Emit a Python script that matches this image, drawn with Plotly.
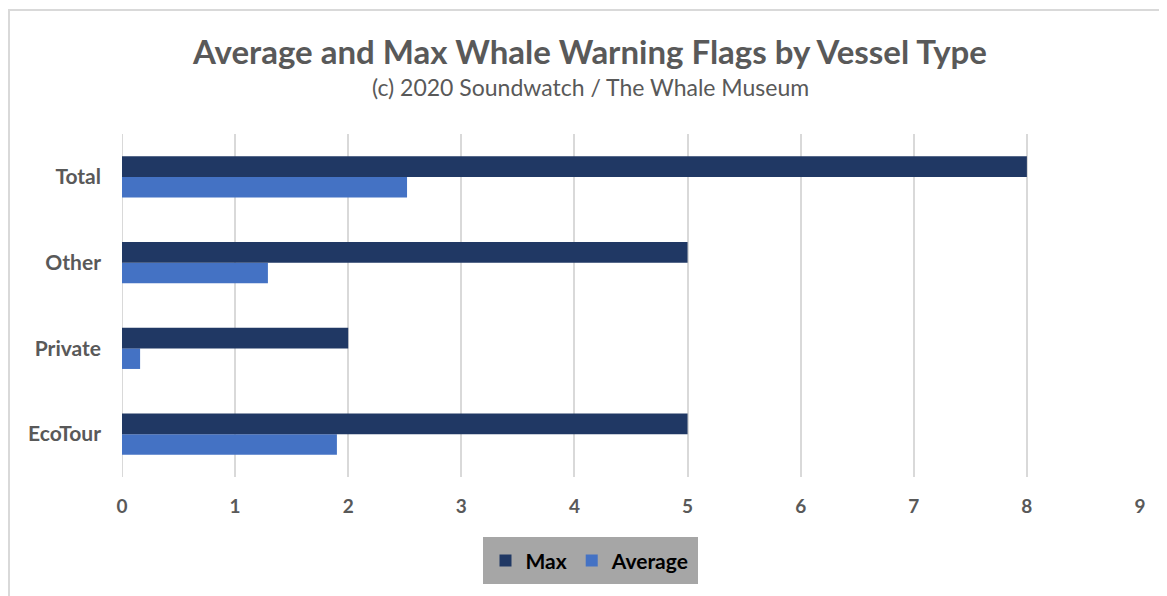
import plotly.graph_objects as go

categories = ["EcoTour", "Private", "Other", "Total"]
max_vals = [5, 2, 5, 8]
avg_vals = [1.9, 0.16, 1.29, 2.52]
x_ticks = [0, 1, 2, 3, 4, 5, 6, 7, 8, 9]

FONT = "Lato"
GRAY = "#595959"

fig = go.Figure()
fig.add_trace(go.Bar(y=categories, x=avg_vals, orientation="h", name="Average",
                     marker=dict(color="#4472C4", line=dict(width=0))))
fig.add_trace(go.Bar(y=categories, x=max_vals, orientation="h", name="Max",
                     marker=dict(color="#203864", line=dict(width=0))))

OFF = 8  # page body margin
W, H = 1167 - OFF, 596 - OFF
L, T = 122 - OFF, 134 - OFF
pw, ph = 1018, 346
R = W - L - pw
B = H - T - ph

def px(x):
    return (x - OFF - L) / pw

def py(y):
    return (H - B - (y - OFF)) / ph

fig.update_layout(
    width=W, height=H,
    margin=dict(l=L, r=R, t=T, b=B),
    paper_bgcolor="white", plot_bgcolor="white",
    barmode="group", bargap=0.52, bargroupgap=0,
    font=dict(family=FONT, color=GRAY),
    xaxis=dict(range=[0, 9], tickvals=x_ticks, showgrid=True, gridcolor="#D9D9D9", gridwidth=2,
               zeroline=False, showline=False,
               tickfont=dict(family=FONT, size=19, color=GRAY, weight="bold"),
               ticks="", ticklabelstandoff=16),
    yaxis=dict(showgrid=False, zeroline=False, showline=False,
               tickfont=dict(family=FONT, size=21, color=GRAY, weight="bold"),
               ticks="", ticklabelstandoff=20),
    legend=dict(orientation="h", traceorder="reversed",
                x=px(590), xanchor="center", y=py(541), yanchor="top",
                bgcolor="#A6A6A6", bordercolor="#A6A6A6", borderwidth=3,
                font=dict(family=FONT, size=21, color="black", weight="bold"),
                itemwidth=30),
    showlegend=True,
    annotations=[
        dict(text="<b>Average and Max Whale Warning Flags by Vessel Type</b>",
             xref="paper", yref="paper", x=px(589), y=py(50), xanchor="center", yanchor="middle",
             showarrow=False, font=dict(family=FONT, size=33, color=GRAY)),
        dict(text="(c) 2020 Soundwatch / The Whale Museum",
             xref="paper", yref="paper", x=px(590), y=py(87), xanchor="center", yanchor="middle",
             showarrow=False, font=dict(family=FONT, size=23, color=GRAY)),
    ],
    shapes=[
        dict(type="line", xref="paper", yref="paper", x0=px(9), x1=px(9), y0=py(8), y1=py(600),
             line=dict(color="#D9D9D9", width=2)),
        dict(type="line", xref="paper", yref="paper", x0=px(8), x1=px(1170), y0=py(9), y1=py(9),
             line=dict(color="#D9D9D9", width=2)),
        dict(type="line", xref="x", yref="paper", x0=0, x1=0, y0=0, y1=1,
             line=dict(color="#D9D9D9", width=2), layer="below"),
    ],
)

fig.write_html("out.html")
